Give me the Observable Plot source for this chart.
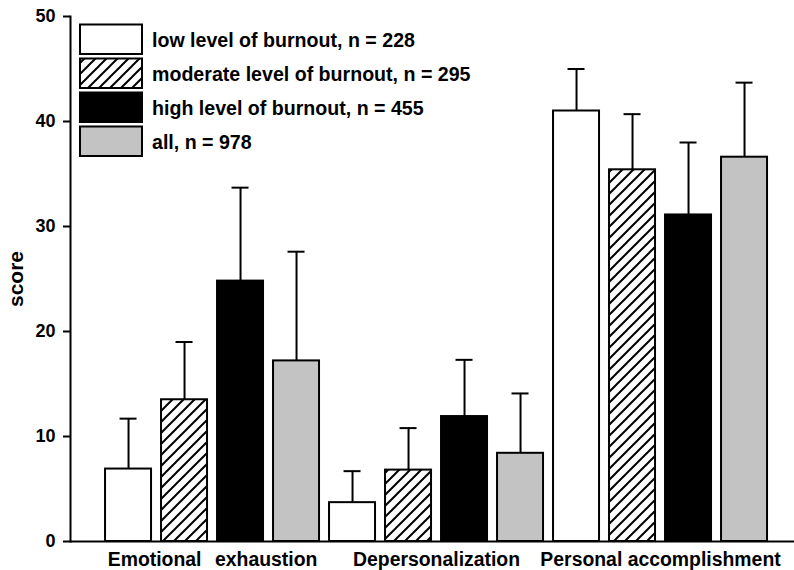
<!DOCTYPE html>
<html><head><meta charset="utf-8">
<script src="https://cdn.jsdelivr.net/npm/d3@7"></script>
<script src="https://cdn.jsdelivr.net/npm/@observablehq/plot@0.6"></script>
<style>
body{margin:0;background:#fff}
#chart{position:relative;width:794px;height:570px}
</style>
</head><body><div id="chart"></div>
<script>
// ---- data ----
const measures = ["Emotional exhaustion", "Depersonalization", "Personal accomplishment"];
const measureLabels = ["Emotional\u2002\u2009exhaustion", "Depersonalization", "Personal accomplishment"];
const series = ["low", "moderate", "high", "all"];
const seriesLabels = [
  "low level of burnout, n = 228",
  "moderate level of burnout, n = 295",
  "high level of burnout, n = 455",
  "all, n = 978"
];
const seriesFills = ["white", "url(#hatch)", "black", "#c3c3c3"];
const meanEE = [6.9, 13.5, 24.8, 17.2];
const sdEE = [4.8, 5.5, 8.9, 10.4];
const meanDP = [3.7, 6.8, 11.9, 8.4];
const sdDP = [3.0, 4.0, 5.4, 5.7];
const meanPA = [41.0, 35.4, 31.1, 36.6];
const sdPA = [4.0, 5.3, 6.9, 7.1];
const yTicks = [0, 10, 20, 30, 40, 50];

const means = [meanEE, meanDP, meanPA];
const sds = [sdEE, sdDP, sdPA];
const rows = [];
measures.forEach((m, i) => series.forEach((s, j) => rows.push({
  measure: m, series: s, key: m + "|" + s, mean: means[i][j], sd: sds[i][j]
})));
const keys = rows.map(d => d.key);
const labelAt = new Map(measures.map((m, i) => [m + "|" + series[1], measureLabels[i]]));

const font = "'Liberation Sans', Arial, Helvetica, sans-serif";

const chart = Plot.plot({
  width: 794, height: 570,
  marginLeft: 70, marginRight: 0, marginTop: 16, marginBottom: 29,
  style: {fontFamily: font, fontWeight: "bold", color: "black", background: "white", overflow: "visible"},
  x: {type: "band", domain: keys, paddingInner: 10 / 56, paddingOuter: 0.5536, align: 0.565, round: false, axis: null},
  y: {domain: [0, 50], axis: null},
  color: {type: "ordinal", domain: series, range: seriesFills},
  marks: [
    Plot.barY(rows, {x: "key", y: "mean", fill: "series", stroke: "black", strokeWidth: 2}),
    Plot.ruleX(rows, {x: "key", y1: "mean", y2: d => d.mean + d.sd, stroke: "black", strokeWidth: 2}),
    Plot.tickY(rows, {x: "key", y: d => d.mean + d.sd, stroke: "black", strokeWidth: 2, insetLeft: 14.5, insetRight: 14.5}),
    Plot.ruleY([0], {stroke: "black", strokeWidth: 2}),
    Plot.frame({anchor: "left", stroke: "black", strokeWidth: 2}),
    Plot.axisY({ticks: yTicks, tickSize: 7, tickPadding: 8, fontSize: 18, strokeWidth: 2, label: null}),
    Plot.axisX({ticks: keys, tickSize: 0, tickPadding: 11, fontSize: 19.4, dx: 28, label: null,
      tickFormat: k => labelAt.get(k) ?? ""}),
    Plot.text(["score"], {text: d => d, frameAnchor: "left", textAnchor: "middle", rotate: -90, dx: -54, fontSize: 21, fontWeight: "bold"})
  ]
});

// pattern defs
const svg = d3.select(chart);
const defs = svg.insert("defs", ":first-child");
const pat = defs.append("pattern").attr("id", "hatch").attr("patternUnits", "userSpaceOnUse")
  .attr("width", 11).attr("height", 11);
pat.append("rect").attr("width", 11).attr("height", 11).attr("fill", "white");
pat.append("path").attr("d", "M-1,1 l2,-2 M0,11 l11,-11 M10,12 l2,-2")
  .attr("stroke", "black").attr("stroke-width", 2);

// legend
const lg = svg.append("g").attr("font-family", font).attr("font-weight", "bold")
  .attr("font-size", 19.6).attr("text-anchor", "start");
series.forEach((s, i) => {
  const y = 24.5 + i * 34;
  lg.append("rect").attr("x", 80).attr("y", y).attr("width", 62).attr("height", 29.5)
    .attr("fill", seriesFills[i]).attr("stroke", "black").attr("stroke-width", 2);
  lg.append("text").attr("x", 152).attr("y", y + 15 + 7).attr("fill", "black").text(seriesLabels[i]);
});

document.getElementById("chart").append(chart);
</script>
</body></html>
